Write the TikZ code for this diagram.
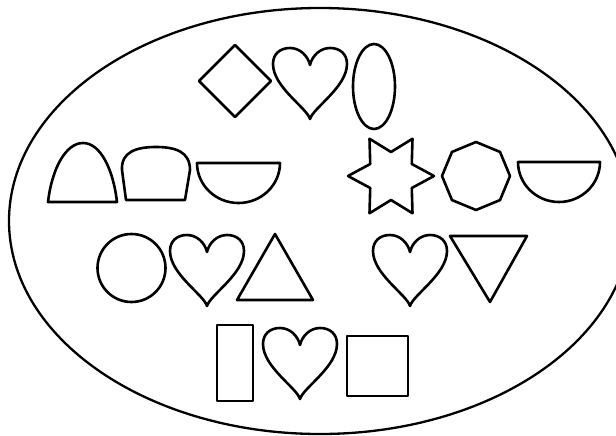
\documentclass[tikz,border=0pt]{standalone}
\begin{document}
\begin{tikzpicture}[x=1pt,y=-1pt,
  shp/.style={draw=black,line width=2.6pt,line join=round},
  heart/.pic={
    \draw[shp] (0,0) .. controls (-2,-9) and (-10,-17) .. (-20,-17)
      .. controls (-30,-17) and (-37,-11) .. (-37,-1)
      .. controls (-37,22) and (-3,43) .. (0,54)
      .. controls (3,43) and (37,22) .. (37,-1)
      .. controls (37,-11) and (30,-17) .. (20,-17)
      .. controls (10,-17) and (2,-9) .. (0,0) -- cycle;
  }]
\useasboundingbox (0,0) rectangle (616,436);
\begin{scope}
\clip (0,0) rectangle (616,436);
% outer ellipse
\draw[line width=2.3pt] (320,221) ellipse [x radius=311, y radius=213];
\end{scope}
% row 1
\draw[shp] (199,81) -- (235,45) -- (271,81) -- (235,117) -- cycle;
\pic at (310,65) {heart};
\draw[shp] (374,86.5) ellipse [x radius=21, y radius=42.5];
% row 2
\draw[shp] (48,202) .. controls (52,168) and (66,143) .. (83,143)
  .. controls (100,143) and (113,168) .. (117,202) -- cycle;
\draw[shp] (126,200) -- (122,170) .. controls (121,152) and (136,147) .. (156,147)
  .. controls (176,147) and (190,152) .. (190,170) -- (185,200) -- cycle;
\draw[shp] (197,163) -- (280,163) arc [start angle=0, end angle=180, x radius=41.5, y radius=40] -- cycle;
\draw[shp] (434,176)
  \foreach \a/\r in {30/24,60/43,90/24,120/43,150/24,180/43,210/24,240/43,270/24,300/43,330/24}
  { -- ({391+\r*cos(\a)},{176+\r*sin(\a)}) } -- cycle;
\draw[shp] (510,176) \foreach \a in {45,90,...,315} { -- ({476+34*cos(\a)},{176+34*sin(\a)}) } -- cycle;
\draw[shp] (518,162) -- (600,162) arc [start angle=0, end angle=180, x radius=41, y radius=40] -- cycle;
% row 3
\draw[shp] (131.5,268) circle [radius=34];
\pic at (207,252) {heart};
\draw[shp] (275,234) -- (313,300) -- (237,300) -- cycle;
\pic at (410,252) {heart};
\draw[shp] (450,236) -- (527,236) -- (490,302) -- cycle;
% row 4
\draw[shp] (217,325) rectangle (253,401);
\pic at (300,345) {heart};
\draw[shp] (347,336) rectangle (408,396);
\end{tikzpicture}
\end{document}
